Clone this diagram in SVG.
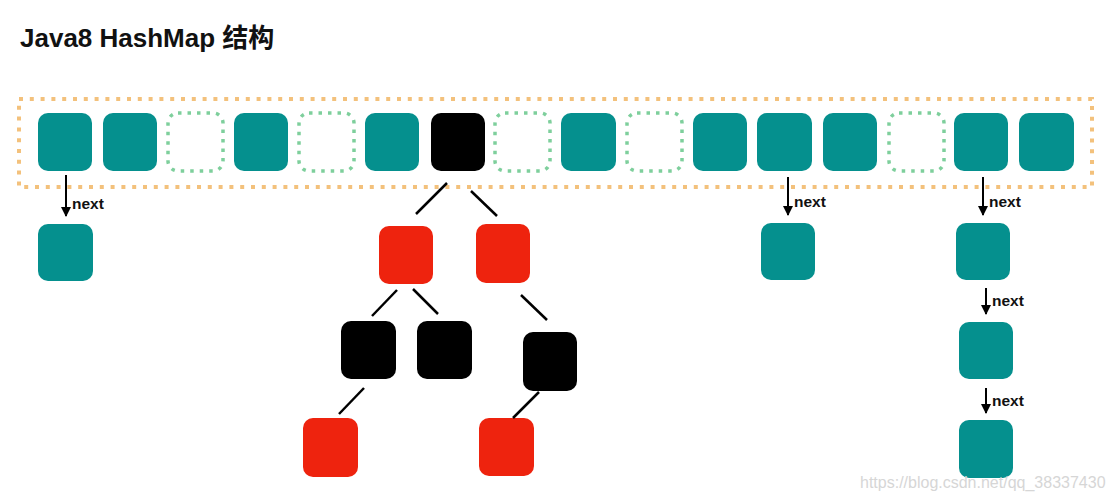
<svg xmlns="http://www.w3.org/2000/svg" width="1112" height="501" viewBox="0 0 1112 501">
<style>
.t{fill:#05908E}
.b{fill:#000}
.r{fill:#EE230E}
.d{fill:none;stroke:#7ECF9C;stroke-width:3.5;stroke-dasharray:3.5 6}
.frame{fill:none;stroke:#F3C17C;stroke-width:4;stroke-dasharray:4 6.8}
.edge{stroke:#000;stroke-width:2.5;fill:none}
.arr{stroke:#000;stroke-width:2;fill:none}
.lbl{font-family:"Liberation Sans",Arial,sans-serif;font-weight:bold;font-size:15.5px;fill:#111}
</style>
<defs>
<marker id="ah" viewBox="0 0 10 10" refX="9" refY="5" markerWidth="11" markerHeight="10" markerUnits="userSpaceOnUse" orient="auto">
<path d="M0,0 L10,5 L0,10 z" fill="#000"/>
</marker>
</defs>
<rect width="1112" height="501" fill="#fff"/>
<text x="20" y="47" font-family="'Liberation Sans','Noto Sans CJK SC',sans-serif" font-weight="bold" font-size="26" fill="#111">Java8 HashMap 结构</text>
<g id="table">
<rect class="frame" x="19" y="99" width="1073" height="88"/>
</g>
<g id="buckets">
<rect id="b0" class="t" x="38" y="113" width="54" height="58" rx="10"/>
<rect id="b1" class="t" x="103" y="113" width="54" height="58" rx="10"/>
<rect id="b2" class="d" x="168" y="113" width="55" height="58" rx="10"/>
<rect id="b3" class="t" x="234" y="113" width="54" height="58" rx="10"/>
<rect id="b4" class="d" x="299" y="113" width="55" height="58" rx="10"/>
<rect id="b5" class="t" x="365" y="113" width="54" height="58" rx="10"/>
<rect id="b6" class="b" x="431" y="113" width="54" height="58" rx="10"/>
<rect id="b7" class="d" x="495" y="113" width="55" height="58" rx="10"/>
<rect id="b8" class="t" x="561" y="113" width="55" height="58" rx="10"/>
<rect id="b9" class="d" x="627" y="113" width="55" height="58" rx="10"/>
<rect id="b10" class="t" x="693" y="113" width="54" height="58" rx="10"/>
<rect id="b11" class="t" x="757" y="113" width="55" height="58" rx="10"/>
<rect id="b12" class="t" x="823" y="113" width="54" height="58" rx="10"/>
<rect id="b13" class="d" x="889" y="113" width="55" height="58" rx="10"/>
<rect id="b14" class="t" x="954" y="113" width="54" height="58" rx="10"/>
<rect id="b15" class="t" x="1019" y="113" width="55" height="58" rx="10"/>
</g>
<g id="list-nodes">
<rect id="n0a" class="t" x="38" y="224" width="55" height="57" rx="10"/>
<rect id="n11a" class="t" x="761" y="223" width="54" height="57" rx="10"/>
<rect id="n14a" class="t" x="956" y="223" width="54" height="57" rx="10"/>
<rect id="n14b" class="t" x="959" y="322" width="54" height="57" rx="10"/>
<rect id="n14c" class="t" x="959" y="420" width="54" height="58" rx="10"/>
</g>
<g id="tree-nodes">
<rect id="red1" class="r" x="379" y="226" width="54" height="58" rx="10"/>
<rect id="red2" class="r" x="476" y="224" width="54" height="59" rx="10"/>
<rect id="blk1" class="b" x="341" y="321" width="55" height="58" rx="10"/>
<rect id="blk2" class="b" x="417" y="321" width="55" height="58" rx="10"/>
<rect id="blk3" class="b" x="523" y="332" width="54" height="59" rx="10"/>
<rect id="red3" class="r" x="303" y="418" width="55" height="59" rx="10"/>
<rect id="red4" class="r" x="479" y="418" width="55" height="58" rx="10"/>
</g>
<g id="connectors">
<line class="edge" x1="447" y1="183" x2="416" y2="214"/>
<line class="edge" x1="471" y1="191" x2="497" y2="216"/>
<line class="edge" x1="397" y1="290" x2="372" y2="316"/>
<line class="edge" x1="413" y1="289" x2="438" y2="314"/>
<line class="edge" x1="521" y1="295" x2="547" y2="320"/>
<line class="edge" x1="364" y1="388" x2="339" y2="414"/>
<line class="edge" x1="539" y1="392" x2="513" y2="418"/>
<line class="arr" x1="66" y1="175" x2="66" y2="216" marker-end="url(#ah)"/>
<line class="arr" x1="788" y1="177" x2="788" y2="215" marker-end="url(#ah)"/>
<line class="arr" x1="983" y1="177" x2="983" y2="215" marker-end="url(#ah)"/>
<line class="arr" x1="986" y1="288" x2="986" y2="314" marker-end="url(#ah)"/>
<line class="arr" x1="986" y1="388" x2="986" y2="413" marker-end="url(#ah)"/>
</g>
<g id="labels">
<text class="lbl" x="72" y="209">next</text>
<text class="lbl" x="794" y="207">next</text>
<text class="lbl" x="989" y="207">next</text>
<text class="lbl" x="992" y="306">next</text>
<text class="lbl" x="992" y="406">next</text>
</g>
<text x="860" y="488" font-family="'Liberation Sans',Arial,sans-serif" font-size="16" fill="#d6d6d6">https://blog.csdn.net/qq_38337430</text>
</svg>
